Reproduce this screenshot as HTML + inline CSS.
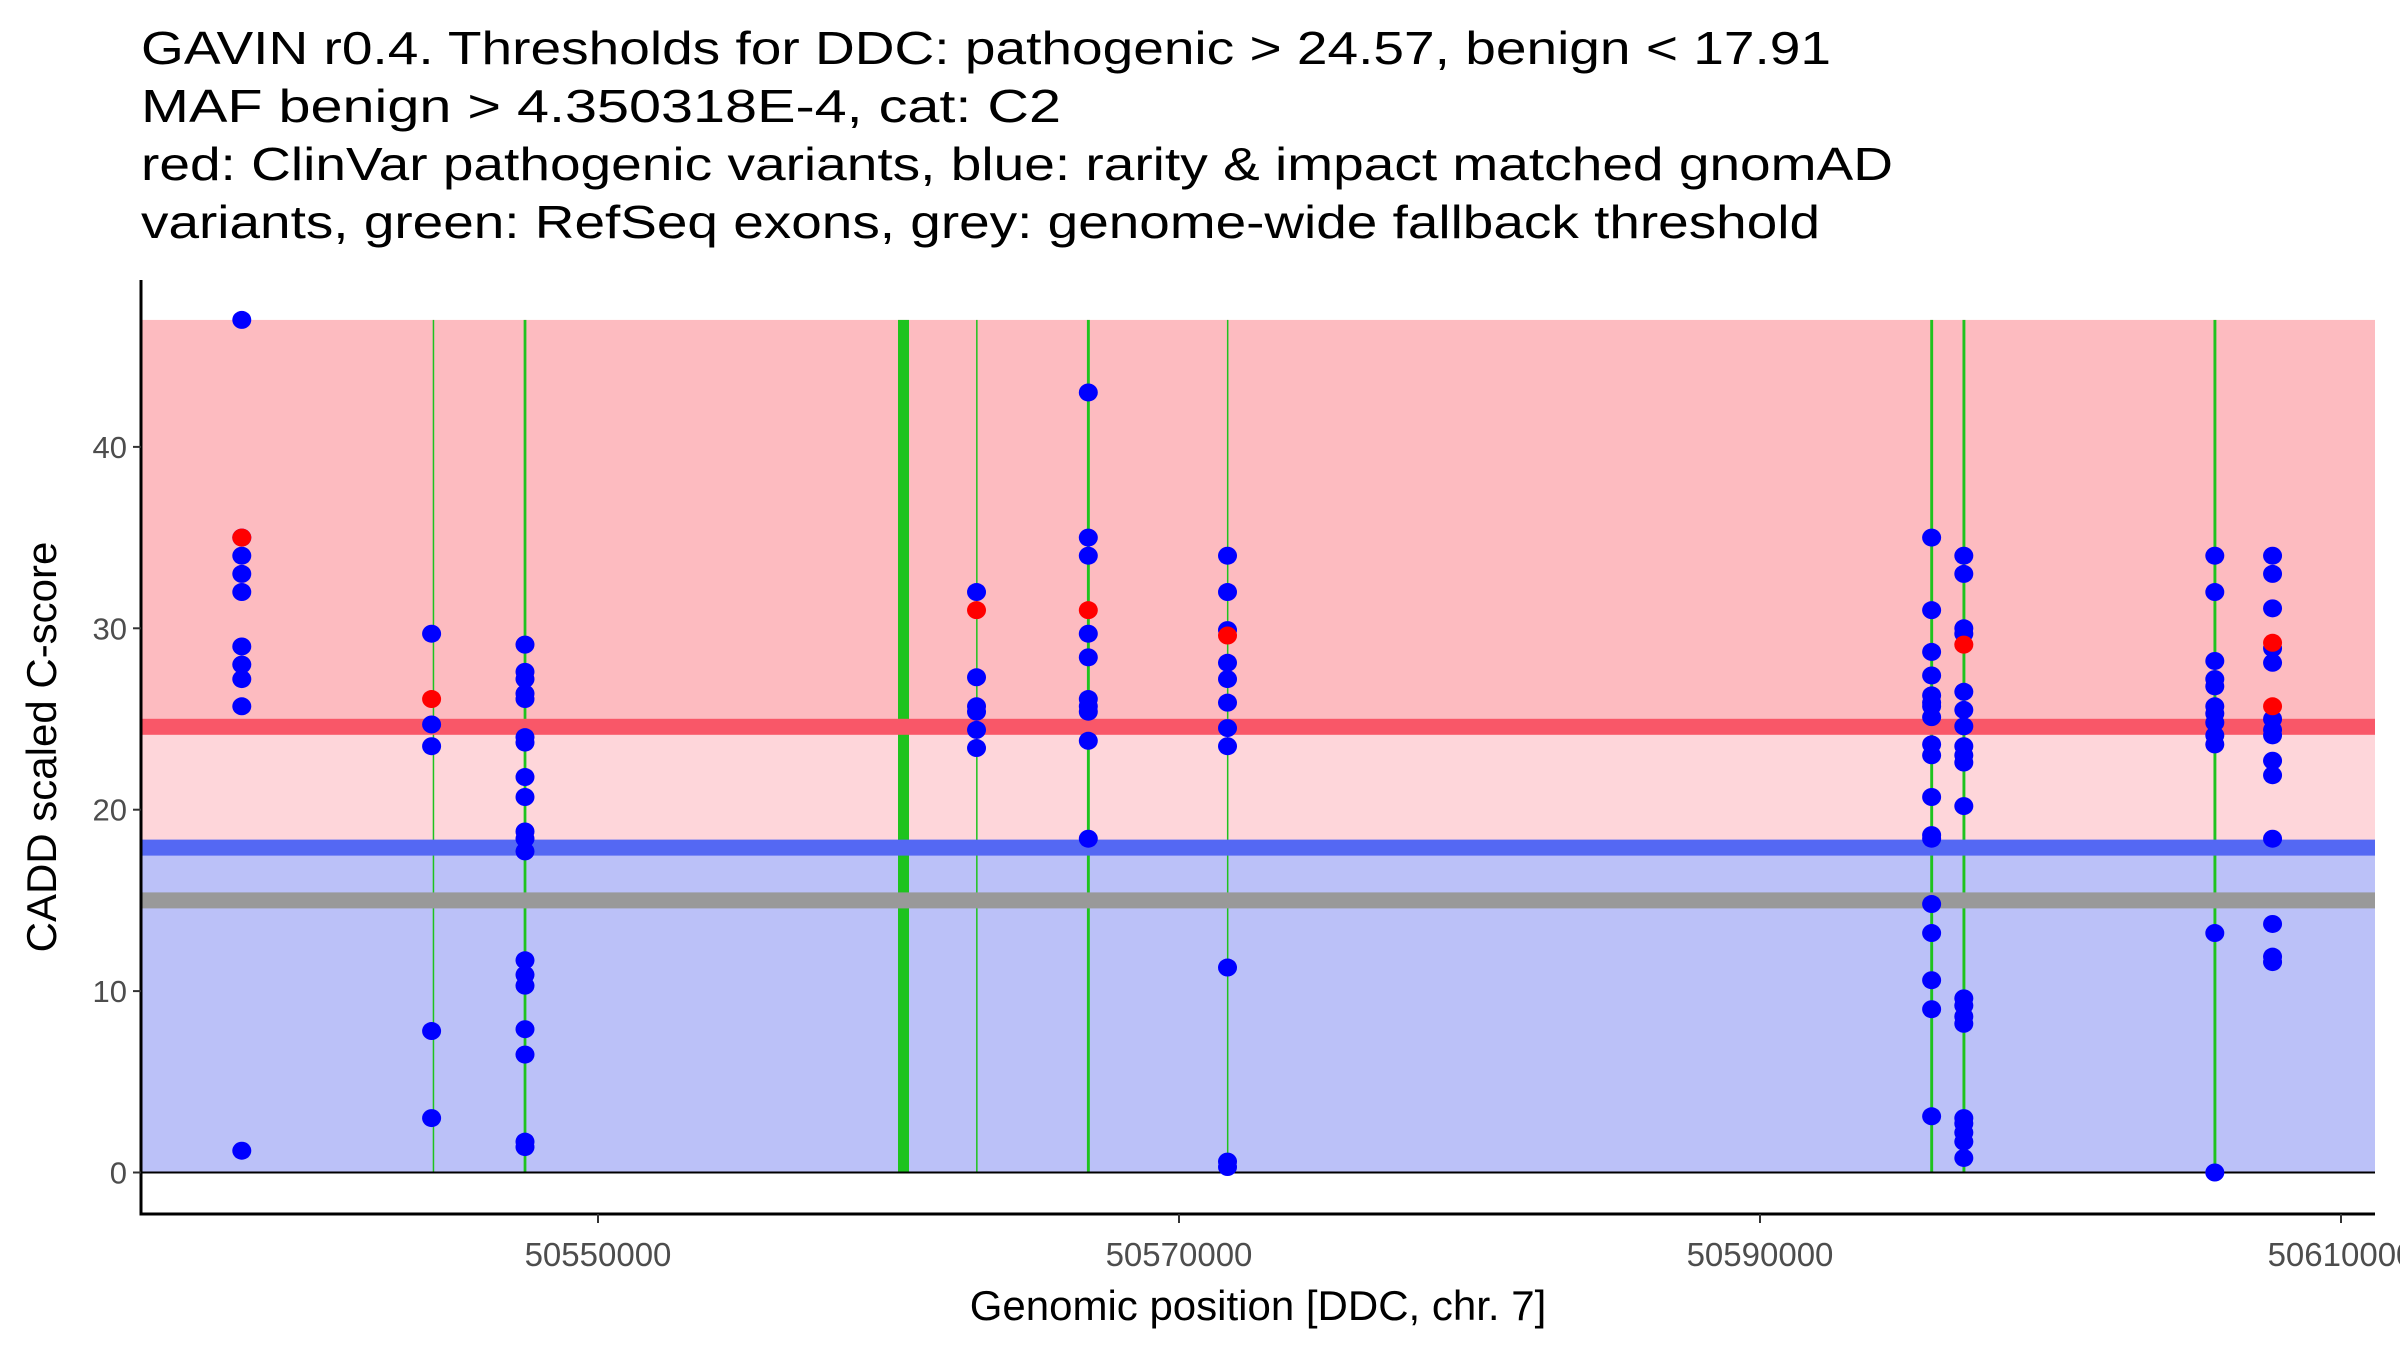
<!DOCTYPE html>
<html><head><meta charset="utf-8"><style>
html,body{margin:0;padding:0;background:#fff;overflow:hidden}
svg{display:block}
text{font-family:"Liberation Sans",Arial,sans-serif}
</style></head><body>
<svg id="chart" width="2400" height="1350" viewBox="0 0 2400 1350" xmlns="http://www.w3.org/2000/svg">
<g font-size="46" fill="#000">
<text x="141" y="64" textLength="1690" lengthAdjust="spacingAndGlyphs">GAVIN r0.4. Thresholds for DDC: pathogenic &gt; 24.57, benign &lt; 17.91</text>
<text x="141" y="122" textLength="920" lengthAdjust="spacingAndGlyphs">MAF benign &gt; 4.350318E-4, cat: C2</text>
<text x="141" y="180" textLength="1752" lengthAdjust="spacingAndGlyphs">red: ClinVar pathogenic variants, blue: rarity &amp; impact matched gnomAD</text>
<text x="141" y="238" textLength="1679" lengthAdjust="spacingAndGlyphs">variants, green: RefSeq exons, grey: genome-wide fallback threshold</text>
</g>
<g id="bands"></g>
<g id="exons"></g>
<g id="thresholds"></g>
<g id="points"></g>
<g id="axes"></g>
<text x="0" y="0" font-size="42" text-anchor="middle" transform="translate(56,747) rotate(-90)">CADD scaled C-score</text>
<text x="1258" y="1320" font-size="42" text-anchor="middle">Genomic position [DDC, chr. 7]</text>
</svg>
<script>
const yTicks = [0, 10, 20, 30, 40];
const xTicks = [50550000, 50570000, 50590000, 50610000];
const xTickLabels = ["50550000", "50570000", "50590000", "50610000"];
const pathogenicThreshold = 24.57;
const benignThreshold = 17.91;
const fallbackThreshold = 15.0;
const maxScore = 47;
const exonStarts = [50544310, 50547440, 50560327, 50563015, 50566830, 50571650, 50595860, 50596970, 50605610];
const exonEnds   = [50544345, 50547535, 50560706, 50563050, 50566930, 50571690, 50595960, 50597070, 50605710];
const gnomadPos = [
50537738,50537738,50537738,50537738,50537738,50537738,50537738,50537738,50537738,50537738,
50544272,50544272,50544272,50544272,50544272,
50547487,50547487,50547487,50547487,50547487,50547487,50547487,50547487,50547487,50547487,50547487,50547487,50547487,50547487,50547487,50547487,50547487,50547487,50547487,
50563030,50563030,50563030,50563030,50563030,50563030,
50566878,50566878,50566878,50566878,50566878,50566878,50566878,50566878,50566878,50566878,
50571670,50571670,50571670,50571670,50571670,50571670,50571670,50571670,50571670,50571670,50571670,
50595908,50595908,50595908,50595908,50595908,50595908,50595908,50595908,50595908,50595908,50595908,50595908,50595908,50595908,50595908,50595908,50595908,50595908,
50597016,50597016,50597016,50597016,50597016,50597016,50597016,50597016,50597016,50597016,50597016,50597016,50597016,50597016,50597016,50597016,50597016,50597016,50597016,50597016,
50605656,50605656,50605656,50605656,50605656,50605656,50605656,50605656,50605656,50605656,50605656,50605656,
50607644,50607644,50607644,50607644,50607644,50607644,50607644,50607644,50607644,50607644,50607644,50607644,50607644,50607644
];
const gnomadScore = [
47,35,34,33,32,29,28,27.2,25.7,1.2,
29.7,24.7,23.5,7.8,3.0,
29.1,27.6,27.2,26.4,26.1,24.0,23.7,21.8,20.7,18.8,18.4,17.7,11.7,10.9,10.3,7.9,6.5,1.7,1.4,
32,27.3,25.7,25.4,24.4,23.4,
43,35,34,29.7,28.4,26.1,25.7,25.4,23.8,18.4,
34,32,29.9,28.1,27.2,25.9,24.5,23.5,11.3,0.6,0.3,
35,31,28.7,27.4,26.3,25.9,25.7,25.1,23.6,23.0,20.7,18.6,18.4,14.8,13.2,10.6,9.0,3.1,
34,33,30,29.7,26.5,25.5,24.6,23.5,23.0,22.6,20.2,9.6,9.2,8.6,8.2,3.0,2.7,2.2,1.7,0.8,
34,32,28.2,27.2,26.8,25.7,25.3,24.8,24.1,23.6,13.2,0,
34,33,31.1,28.9,28.1,25.0,24.4,24.1,22.7,21.9,18.4,13.7,11.9,11.6
];
const clinvarPos = [50537738, 50544272, 50563030, 50566878, 50571670, 50597016, 50607644, 50607644];
const clinvarScore = [35, 26.1, 31, 31, 29.6, 29.1, 29.2, 25.7];

const NS = "http://www.w3.org/2000/svg";
const plotL = 141, plotR = 2375, plotBottomAxis = 1214;
function xScale(p){ return 598 + (p - 50550000) * 581 / 20000; }
function yScale(v){ return 1172.5 - v * 18.14; }
function mk(tag, attrs, parent){
  const e = document.createElementNS(NS, tag);
  for (const k in attrs) e.setAttribute(k, attrs[k]);
  parent.appendChild(e); return e;
}
const bands = document.getElementById('bands');
let r;
r = mk('rect', {x:plotL, y:yScale(maxScore), width:plotR-plotL, height:yScale(pathogenicThreshold)-yScale(maxScore), fill:'#FDBBC0'}, bands);


r = mk('rect', {x:plotL, y:yScale(pathogenicThreshold), width:plotR-plotL, height:yScale(benignThreshold)-yScale(pathogenicThreshold), fill:'#FED6DA'}, bands);


r = mk('rect', {x:plotL, y:yScale(benignThreshold), width:plotR-plotL, height:yScale(0)-yScale(benignThreshold), fill:'#BBC1F8'}, bands);



const exG = document.getElementById('exons');
for (let i = 0; i < exonStarts.length; i++){
  const x1 = xScale(exonStarts[i]), x2 = xScale(exonEnds[i]);
  const e = mk('rect', {x:x1, y:yScale(maxScore), width:Math.max(1.5, x2-x1), height:yScale(0)-yScale(maxScore), fill:'#1EC31E'}, exG);
  
  
}

const th = document.getElementById('thresholds');
const thr = [[pathogenicThreshold,'#F95768','pathogenic-threshold-line'],[benignThreshold,'#5468F3','benign-threshold-line'],[fallbackThreshold,'#999999','fallback-threshold-line']];
thr.forEach(t => {
  const e = mk('rect', {x:plotL, y:yScale(t[0])-8, width:plotR-plotL, height:16, fill:t[1]}, th);
  
  
});
const zl = mk('line', {x1:plotL, x2:plotR, y1:yScale(0), y2:yScale(0), stroke:'#000', 'stroke-width':2}, th);



const pts = document.getElementById('points');
for (let i = 0; i < gnomadPos.length; i++){
  const c = mk('ellipse', {cx:xScale(gnomadPos[i]), cy:yScale(gnomadScore[i]), rx:9.5, ry:9, fill:'#0000FF'}, pts);
  
  
}
for (let i = 0; i < clinvarPos.length; i++){
  const c = mk('ellipse', {cx:xScale(clinvarPos[i]), cy:yScale(clinvarScore[i]), rx:9.5, ry:9, fill:'#FF0000'}, pts);
  
  
}

const ax = document.getElementById('axes');
let a = mk('line', {x1:plotL, x2:plotL, y1:280, y2:plotBottomAxis+1.5, stroke:'#000', 'stroke-width':3}, ax);


a = mk('line', {x1:plotL-1.5, x2:plotR, y1:plotBottomAxis, y2:plotBottomAxis, stroke:'#000', 'stroke-width':3}, ax);


yTicks.forEach(v => {
  const y = yScale(v);
  const t = mk('line', {x1:plotL-8, x2:plotL, y1:y, y2:y, stroke:'#333', 'stroke-width':2}, ax);
  
  
  const l = mk('text', {x:plotL-14, y:y+11, 'font-size':31, fill:'#4D4D4D', 'text-anchor':'end'}, ax);
  l.textContent = String(v);
  
  
});
xTicks.forEach((p, i) => {
  const x = xScale(p);
  const t = mk('line', {x1:x, x2:x, y1:plotBottomAxis, y2:plotBottomAxis+9, stroke:'#333', 'stroke-width':2}, ax);
  
  
  const l = mk('text', {x:x, y:1266, 'font-size':33, fill:'#4D4D4D', 'text-anchor':'middle'}, ax);
  l.textContent = xTickLabels[i];
  
  
});
</script>
</body></html>
